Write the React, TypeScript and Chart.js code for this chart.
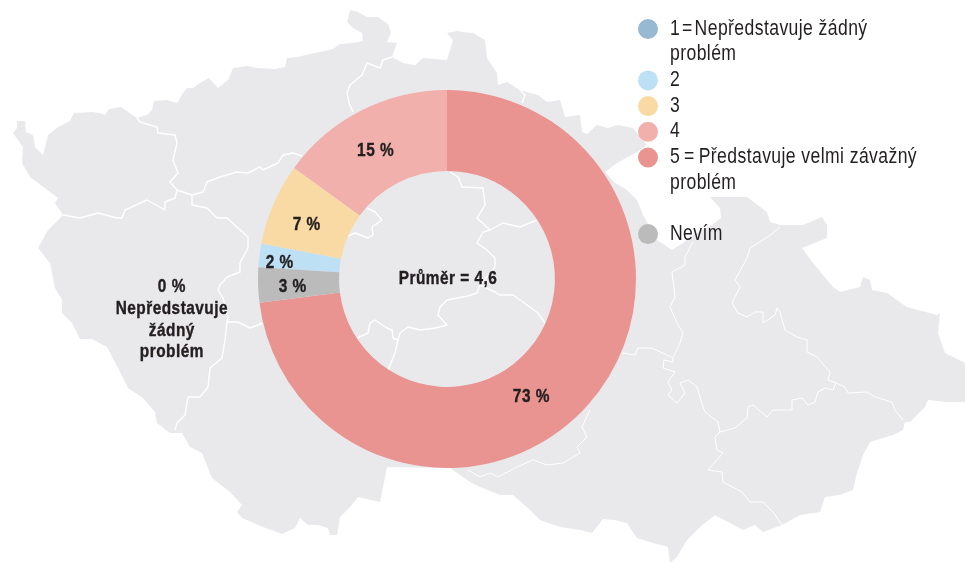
import React, { useEffect, useRef } from "react";
import { Chart, registerables } from "chart.js";

Chart.register(...registerables);

// Chart data, in legend order
const categories = ["1", "2", "3", "4", "5", "Nevím"];
const shares = [0, 2, 7, 15, 73, 3];
const colours = ["#97B9D1", "#BEE0F5", "#FADAA4", "#F1B0AB", "#EA9492", "#BBBBBB"];
const legendLines = [
  ["1\u200A=\u200ANepředstavuje žádný", "problém"],
  ["2"],
  ["3"],
  ["4"],
  ["5\u2009=\u2009Představuje velmi závažný", "problém"],
  [],
  ["Nevím"],
];
const legendColourIndex = [0, 1, 2, 3, 4, -1, 5];
const zeroNote = ["Nepředstavuje", "žádný", "problém"];
const centreText = "Průměr = 4,6";

// Label nudges relative to each slice's centre point
const labelNudges = [[-127, 17], [-20, 2], [-4, 5], [-4, 4], [-27, 20], [-6, 3]];

// Background map of Czechia
const mapOutline = [
  [13,133],[17,128],[17,121],[25,121],[26,132],[33,135],[35,147],[43,155],[48,135],[58,127],[70,121],[74,113],[92,112],[100,113],[105,115],[109,109],[121,107],[137,118],[147,115],[152,110],[154,101],[167,100],[177,103],[183,93],[187,88],[193,88],[200,83],[209,78],[218,88],[228,80],[233,68],[248,66],[257,68],[275,69],[285,67],[287,58],[297,57],[315,53],[333,49],[340,44],[353,43],[363,41],[362,33],[353,28],[347,22],[350,10],[358,12],[367,17],[378,17],[388,24],[391,33],[387,42],[397,43],[392,57],[403,63],[415,65],[423,58],[447,60],[453,40],[447,33],[457,31],[463,32],[473,33],[485,40],[487,58],[497,73],[498,85],[507,82],[520,90],[538,95],[547,102],[560,100],[565,117],[580,115],[582,132],[587,134],[597,125],[608,128],[618,125],[633,128],[647,145],[637,152],[617,163],[605,172],[615,183],[627,190],[637,200],[643,215],[657,240],[672,250],[683,243],[693,235],[712,225],[721,218],[720,208],[710,197],[727,197],[747,197],[767,212],[770,222],[780,225],[803,225],[822,217],[827,225],[827,238],[802,248],[813,263],[833,287],[840,292],[860,287],[863,277],[870,280],[872,290],[887,293],[907,307],[937,315],[940,313],[938,333],[945,353],[965,363],[965,402],[947,402],[928,400],[925,407],[910,422],[905,422],[903,430],[893,435],[870,442],[863,455],[857,473],[853,490],[840,495],[825,497],[820,512],[800,515],[782,525],[763,532],[755,525],[743,530],[715,515],[700,527],[687,540],[677,557],[670,563],[668,547],[653,543],[637,538],[627,523],[615,520],[603,519],[592,533],[580,530],[560,527],[540,520],[530,510],[513,495],[500,495],[480,487],[470,482],[450,468],[387,467],[383,487],[380,502],[358,497],[350,507],[340,517],[337,535],[330,535],[328,528],[318,525],[308,525],[300,518],[295,528],[282,534],[263,527],[242,518],[237,512],[242,505],[230,492],[212,478],[202,453],[190,447],[182,433],[170,433],[157,423],[155,412],[143,398],[128,388],[118,368],[107,347],[92,339],[80,339],[72,323],[62,313],[62,300],[55,288],[50,263],[38,248],[48,230],[63,215],[55,203],[58,198],[30,177],[22,163],[23,147],
];
const mapBordersWest = [
  [[137,118],[140,122],[157,127],[158,133],[175,135],[177,143],[173,160],[178,173],[170,182],[177,190],[175,198],[165,202],[165,210],[147,200],[125,210],[122,218],[117,218],[98,213],[80,218],[63,215]],
  [[177,190],[180,191],[192,195],[203,192],[207,182],[220,177],[237,172],[248,173],[260,167],[263,170],[278,163],[283,155],[293,153],[302,156]],
  [[192,195],[192,205],[207,208],[217,218],[227,218],[238,228],[248,237],[248,248],[240,263],[240,272],[227,277],[220,285],[218,290],[223,298],[228,318],[227,322],[225,340],[222,358],[210,368],[208,387],[200,397],[188,397],[185,415],[177,423],[175,430]],
  [[228,322],[238,322],[250,328],[263,323]],
  [[357,338],[368,333],[370,323],[375,320],[387,328],[392,330],[393,338],[398,340],[395,353],[388,370]],
  [[398,340],[400,333],[408,327],[420,330],[435,328],[447,325],[438,315],[440,307],[447,300],[468,296],[477,293],[480,285],[495,292],[500,295],[513,295],[523,302],[538,313],[545,323]],
  [[480,285],[495,267],[495,258],[487,250],[477,243],[483,232],[490,230],[477,218],[485,205],[483,188],[462,187],[458,177],[450,172]],
  [[490,230],[503,223],[520,227],[537,220]],
  [[367,208],[375,212],[382,220],[372,227],[373,235],[368,238],[355,233],[348,236]],
  [[392,57],[383,60],[380,68],[367,63],[362,75],[350,85],[347,93],[349,103],[353,112]],
  [[520,90],[525,95],[522,103]],
];
const mapBordersEast = [
  [[622,353],[635,355],[638,348],[652,348],[673,358]],
  [[693,242],[685,257],[685,265],[672,272],[675,297],[670,307],[677,323],[683,333],[680,343],[673,358],[673,362],[664,360],[663,368],[675,372],[668,382],[672,390],[668,395],[677,403],[685,393],[680,383],[688,380],[697,387],[703,407],[705,412],[718,422],[720,432],[715,437],[717,450],[723,453],[708,470],[722,472],[723,482],[742,492],[750,502],[763,502],[773,512],[782,525]],
  [[720,432],[735,428],[747,418],[748,407],[753,405],[767,417],[773,410],[792,410],[792,400],[802,398],[808,405],[815,402],[818,392],[825,388],[833,390],[836,383],[828,380],[830,372],[817,357],[807,352],[807,340],[797,337],[785,330],[780,312],[777,308],[775,315],[763,323],[763,312],[755,312],[747,317],[738,313],[732,303],[740,287],[735,280],[747,258],[750,248],[763,240],[773,233],[780,227]],
  [[836,383],[845,387],[848,393],[867,392],[875,397],[892,402],[895,410],[903,420]],
  [[590,410],[582,427],[587,437],[577,447],[580,453],[563,463],[547,465],[533,460],[517,467],[498,477],[490,473],[480,477],[468,470]],
];

const FONT = '"Liberation Sans", sans-serif';
const INK = "#231F20";
const LEGEND_SQUEEZE = 0.8;
const LABEL_SQUEEZE = 0.81;

function tracePath(ctx: CanvasRenderingContext2D, pts: number[][]) {
  ctx.beginPath();
  pts.forEach(([x, y], i) => (i ? ctx.lineTo(x, y) : ctx.moveTo(x, y)));
}

// The condensed face of the reference is not installed: squeeze horizontally.
function squeezedText(ctx: any, text: string, x: number, y: number, squeeze: number, heavy = false) {
  ctx.save();
  ctx.translate(x, y);
  ctx.scale(squeeze, 1);
  ctx.fillText(text, 0, 0);
  if (heavy) {
    ctx.strokeStyle = INK;
    ctx.lineWidth = 0.4;
    ctx.strokeText(text, 0, 0);
  }
  ctx.restore();
}

const mapPlugin = {
  id: "czMap",
  beforeDatasetsDraw(chart: Chart) {
    const ctx = chart.ctx;
    ctx.save();
    tracePath(ctx, mapOutline);
    ctx.closePath();
    ctx.fillStyle = "#E9E8EB";
    ctx.fill();
    ctx.strokeStyle = "#FFFFFF";
    ctx.lineJoin = "round";
    ctx.lineWidth = 1.4;
    mapBordersWest.forEach((b) => { tracePath(ctx, b); ctx.stroke(); });
    ctx.lineWidth = 1;
    mapBordersEast.forEach((b) => { tracePath(ctx, b); ctx.stroke(); });
    ctx.restore();
  },
};

const textPlugin = {
  id: "texts",
  afterDatasetsDraw(chart: Chart) {
    const ctx = chart.ctx as any;
    const arcs = chart.getDatasetMeta(0).data as any[];
    ctx.save();
    ctx.textBaseline = "middle";
    ctx.fillStyle = INK;

    // slice labels
    ctx.textAlign = "center";
    ctx.font = `bold 19px ${FONT}`;
    ctx.letterSpacing = "0.6px";
    shares.forEach((v, i) => {
      const c = arcs[i].getCenterPoint();
      const [dx, dy] = labelNudges[i];
      squeezedText(ctx, `${v} %`, c.x + dx, c.y + dy, LABEL_SQUEEZE, true);
      if (v === 0) {
        zeroNote.forEach((t, k) => squeezedText(ctx, t, c.x + dx, c.y + dy + 22 + k * 21.7, LABEL_SQUEEZE, true));
      }
    });
    squeezedText(ctx, centreText, 448, 279, LABEL_SQUEEZE, true);

    // legend
    ctx.textAlign = "left";
    ctx.font = `22px ${FONT}`;
    ctx.letterSpacing = "0.5px";
    let y = 28.5;
    legendLines.forEach((lines, i) => {
      const ci = legendColourIndex[i];
      if (ci >= 0) {
        ctx.beginPath();
        ctx.arc(648, y + 0.5, 10, 0, Math.PI * 2);
        ctx.fillStyle = colours[ci];
        ctx.fill();
      }
      ctx.fillStyle = INK;
      lines.forEach((t) => {
        squeezedText(ctx, t, 670, y, LEGEND_SQUEEZE);
        y += 25.7;
      });
      if (!lines.length) y += 25.2;
    });
    ctx.restore();
  },
};

export default function App() {
  const ref = useRef<HTMLCanvasElement>(null);
  useEffect(() => {
    const chart = new Chart(ref.current!, {
      type: "doughnut",
      data: {
        labels: categories,
        datasets: [{ data: shares, backgroundColor: colours, borderWidth: 0 }],
      },
      options: {
        animation: false,
        responsive: false,
        rotation: -86.4,
        cutout: "57.1%",
        layout: { padding: { left: 258, right: 329, top: 90, bottom: 96 } },
        plugins: { legend: { display: false }, tooltip: { enabled: false } },
      },
      plugins: [mapPlugin, textPlugin],
    });
    return () => chart.destroy();
  }, []);
  return (
    <div style={{ position: "absolute", left: 0, top: 0, width: 965, height: 564, background: "#fff" }}>
      <canvas ref={ref} width={965} height={564} style={{ display: "block" }} />
    </div>
  );
}
